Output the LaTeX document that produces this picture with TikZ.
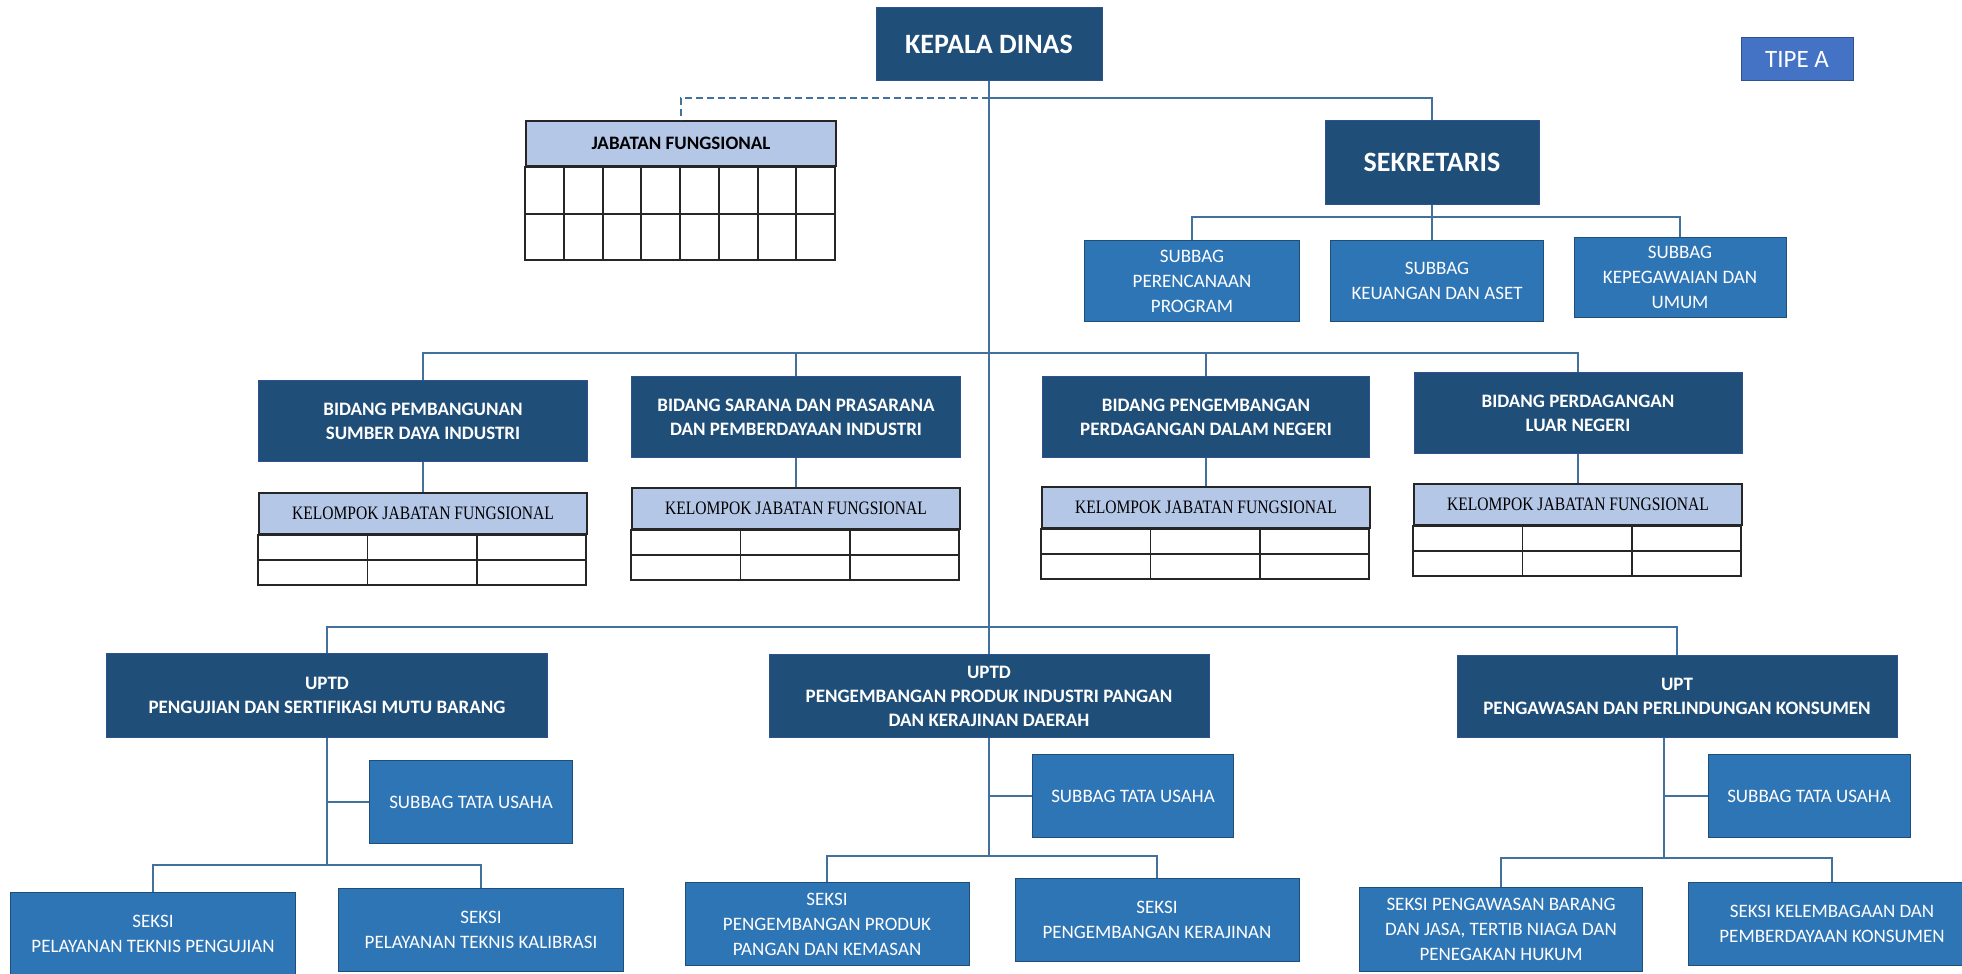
\documentclass[tikz,border=0pt]{standalone}
\usepackage{fontspec}
\setmainfont{Carlito}
\newfontfamily\tnr[FakeStretch=0.82]{Liberation Serif}
\definecolor{navy}{HTML}{1F4E79}
\definecolor{navyln}{HTML}{2F528F}
\definecolor{midblue}{HTML}{2E75B6}
\definecolor{tipeblue}{HTML}{4472C4}
\definecolor{hdrblue}{HTML}{B4C7E7}
\definecolor{linkblue}{HTML}{41719C}

\begin{document}
\begin{tikzpicture}[x=1pt, y=-1pt,
  navybox/.style={rectangle, draw=navyln, line width=1pt, fill=navy, text=white, inner sep=0pt, align=center, font=\bfseries\fontsize{19}{24}\selectfont},
  bluebox/.style={rectangle, draw=navy, line width=1pt, fill=midblue, text=white, inner sep=0pt, align=center, font=\fontsize{19}{25}\selectfont},
  hdr/.style={rectangle, draw=black!85, line width=1.8pt, fill=hdrblue, inner sep=0pt, align=center},
  tblline/.style={draw=black!85, line width=1.8pt},
  link/.style={draw=linkblue, line width=2pt}]

\useasboundingbox (0,0) rectangle (1962,974);

% 1. Top: head of office, type label, functional positions
\node[navybox, minimum width=226pt, minimum height=72pt, font=\bfseries\fontsize{28}{32}\selectfont] (kd) at (989,44) {KEPALA DINAS};
\node[rectangle, draw=navyln, line width=1pt, fill=tipeblue, text=white, minimum width=112pt, minimum height=42pt, font=\fontsize{25}{30}\selectfont] (tipe) at (1797,59) {TIPE A};

\node[hdr, minimum width=310pt, minimum height=45pt, anchor=north, font=\bfseries\fontsize{19}{24}\selectfont] (jf) at (681,120) {JABATAN FUNGSIONAL};
\draw[tblline] (jf.south west) rectangle ++(310,93);
\draw[tblline] (jf.south west) ++(0,47) -- ++(310,0);
\foreach \c in {1,...,7}
  \draw[tblline] (jf.south west) ++(\c*38.75,0) -- ++(0,93);

% 2. Secretary and its sub-sections
\node[navybox, minimum width=214pt, minimum height=84pt, font=\bfseries\fontsize{28}{32}\selectfont] (sek) at (1432,162) {SEKRETARIS};
\node[bluebox, minimum width=215pt, minimum height=81pt] (sb1) at (1192,281) {SUBBAG\\PERENCANAAN\\PROGRAM};
\node[bluebox, minimum width=213pt, minimum height=81pt] (sb2) at (1437,281) {SUBBAG\\KEUANGAN DAN ASET};
\node[bluebox, minimum width=212pt, minimum height=80pt] (sb3) at (1680,277) {SUBBAG\\KEPEGAWAIAN DAN\\UMUM};

% 3. Divisions with their functional groups
\node[navybox, minimum width=329pt, minimum height=81pt] (b1) at (423,421) {BIDANG PEMBANGUNAN\\SUMBER DAYA INDUSTRI};
\node[navybox, minimum width=329pt, minimum height=81pt] (b2) at (796,417) {BIDANG SARANA DAN PRASARANA\\DAN PEMBERDAYAAN INDUSTRI};
\node[navybox, minimum width=327pt, minimum height=81pt] (b3) at (1206,417) {BIDANG PENGEMBANGAN\\PERDAGANGAN DALAM NEGERI};
\node[navybox, minimum width=328pt, minimum height=81pt] (b4) at (1578,413) {BIDANG PERDAGANGAN\\LUAR NEGERI};

\foreach \i/\x/\y in {1/423/492, 2/796/487, 3/1206/486, 4/1578/483}{
  \node[hdr, minimum width=328pt, minimum height=41pt, anchor=north, font=\tnr\fontsize{19}{24}\selectfont] (k\i) at (\x,\y) {KELOMPOK JABATAN FUNGSIONAL};
  \draw[tblline] (k\i.south west) rectangle ++(328,50);
  \draw[tblline] (k\i.south west) ++(0,25) -- ++(328,0);
  \foreach \c in {1,2}
    \draw[tblline] (k\i.south west) ++(\c*328/3,0) -- ++(0,50);
}

% 4. Technical units, their admin sub-section and sections
\node[navybox, minimum width=441pt, minimum height=84pt] (u1) at (327,695) {UPTD\\PENGUJIAN DAN SERTIFIKASI MUTU BARANG};
\node[navybox, minimum width=440pt, minimum height=83pt] (u2) at (989,696) {UPTD\\PENGEMBANGAN PRODUK INDUSTRI PANGAN\\DAN KERAJINAN DAERAH};
\node[navybox, minimum width=440pt, minimum height=82pt] (u3) at (1677,696) {UPT\\PENGAWASAN DAN PERLINDUNGAN KONSUMEN};

\node[bluebox, minimum width=203pt, minimum height=83pt] (t1) at (471,802) {SUBBAG TATA USAHA};
\node[bluebox, minimum width=201pt, minimum height=83pt] (t2) at (1133,796) {SUBBAG TATA USAHA};
\node[bluebox, minimum width=202pt, minimum height=83pt] (t3) at (1809,796) {SUBBAG TATA USAHA};

\node[bluebox, minimum width=285pt, minimum height=83pt] (s1) at (153,934) {SEKSI\\PELAYANAN TEKNIS PENGUJIAN};
\node[bluebox, minimum width=285pt, minimum height=83pt] (s2) at (481,930) {SEKSI\\PELAYANAN TEKNIS KALIBRASI};
\node[bluebox, minimum width=284pt, minimum height=83pt] (s3) at (827,924) {SEKSI\\PENGEMBANGAN PRODUK\\PANGAN DAN KEMASAN};
\node[bluebox, minimum width=284pt, minimum height=83pt] (s4) at (1157,920) {SEKSI\\PENGEMBANGAN KERAJINAN};
\node[bluebox, minimum width=283pt, minimum height=84pt] (s5) at (1501,929) {SEKSI PENGAWASAN BARANG\\DAN JASA, TERTIB NIAGA DAN\\PENEGAKAN HUKUM};
\node[bluebox, minimum width=288pt, minimum height=83pt] (s6) at (1832,924) {SEKSI KELEMBAGAAN DAN\\PEMBERDAYAAN KONSUMEN};

% 5. Connectors
\coordinate (barA) at (0,98);
\coordinate (barB) at (0,217);
\coordinate (barC) at (0,353);
\coordinate (barD) at (0,627);

\draw[link] (kd.south) -- (u2.north); % main trunk
\draw[link] (kd.south |- barA) -| (sek.north);
\draw[link, dash pattern=on 7pt off 4pt] (kd.south |- barA) -| (jf.north);

\draw[link] (sek.south) -- (sek.south |- sb2.north);
\draw[link] (sb1.north) |- (sb3.north |- barB) -- (sb3.north);

\draw[link] (b1.north) |- (b4.north |- barC) -- (b4.north);
\draw[link] (b2.north) -- (b2.north |- barC);
\draw[link] (b3.north) -- (b3.north |- barC);
\foreach \i in {1,...,4}
  \draw[link] (b\i.south) -- (k\i.north);

\draw[link] (u1.north) |- (u3.north |- barD) -- (u3.north);

\foreach \u/\t/\sa/\sb/\ey/\dx in {u1/t1/s1/s2/865/0, u2/t2/s3/s4/856/0, u3/t3/s5/s6/858/-13}{
  \coordinate (tap) at ([xshift=\dx pt]\u.south);
  \coordinate (bar) at (0,\ey);
  \draw[link] (tap) -- (tap |- bar);
  \draw[link] (tap |- \t.west) -- (\t.west);
  \draw[link] (\sa.north) |- (\sb.north |- bar) -- (\sb.north);
}

\end{tikzpicture}
\end{document}
